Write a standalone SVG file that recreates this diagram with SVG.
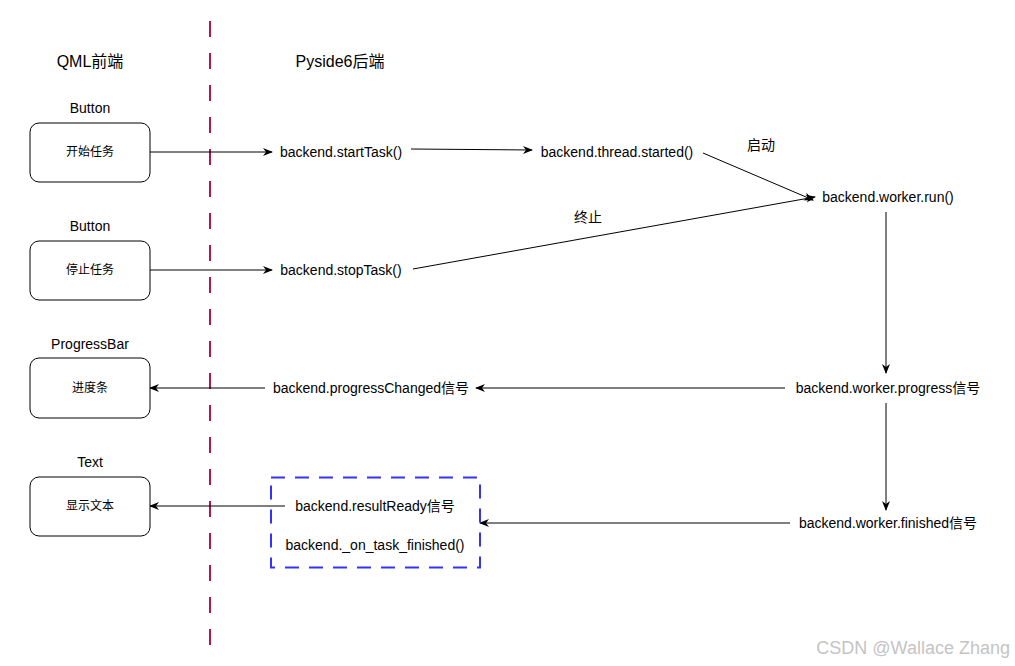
<svg xmlns="http://www.w3.org/2000/svg" width="1015" height="666" viewBox="0 0 1015 666">
<defs>
<marker id="arr" viewBox="0 0 10 10" refX="9" refY="5" markerWidth="10" markerHeight="10" markerUnits="userSpaceOnUse" orient="auto">
<path d="M0,1 L10,5 L0,9 L3,5 z" fill="#000"/>
</marker>
<style>
text{font-family:"Liberation Sans","Noto Sans CJK SC",sans-serif;fill:#000;text-anchor:middle;dominant-baseline:central}
.t{font-size:16px}
.l{font-size:14px}
.s{font-size:12px}
.box{fill:#fff;stroke:#000;stroke-width:1}
.c{stroke:#000;stroke-width:1;fill:none;marker-end:url(#arr)}
</style>
</defs>
<rect width="1015" height="666" fill="#fff"/>
<line x1="210" y1="21" x2="210" y2="648" stroke="#B5164D" stroke-width="2" stroke-dasharray="16 16"/>
<text class="t" x="90" y="61">QML前端</text>
<text class="t" x="340" y="61">Pyside6后端</text>
<g id="connectors">
<line class="c" x1="150" y1="152" x2="272" y2="152"/>
<line class="c" x1="411" y1="149" x2="532" y2="150"/>
<line class="c" x1="703" y1="153" x2="813" y2="200"/>
<line class="c" x1="413" y1="269" x2="815" y2="197"/>
<line class="c" x1="150" y1="270" x2="272" y2="270"/>
<line class="c" x1="886" y1="212" x2="886" y2="373"/>
<line class="c" x1="785" y1="388" x2="476" y2="388"/>
<line class="c" x1="265" y1="388" x2="150" y2="388"/>
<line class="c" x1="886" y1="403" x2="886" y2="510"/>
<line class="c" x1="790" y1="523" x2="480" y2="523"/>
<line class="c" x1="285" y1="506" x2="150" y2="506"/>
</g>
<g id="btn-start">
<text class="l" x="90" y="108">Button</text>
<rect class="box" x="30" y="123" width="120" height="59" rx="9"/>
<text class="s" x="90" y="152">开始任务</text>
</g>
<g id="btn-stop">
<text class="l" x="90" y="226">Button</text>
<rect class="box" x="30" y="241" width="120" height="59" rx="9"/>
<text class="s" x="90" y="270">停止任务</text>
</g>
<g id="progressbar">
<text class="l" x="90" y="344">ProgressBar</text>
<rect class="box" x="30" y="358" width="120" height="60" rx="9"/>
<text class="s" x="90" y="388">进度条</text>
</g>
<g id="textnode">
<text class="l" x="90" y="462">Text</text>
<rect class="box" x="30" y="477" width="120" height="59" rx="9"/>
<text class="s" x="90" y="506">显示文本</text>
</g>
<g id="startTask"><text class="l" x="341" y="152">backend.startTask()</text></g>
<g id="threadStarted"><text class="l" x="617" y="152">backend.thread.started()</text></g>
<g id="lbl-start"><text class="l" x="761" y="145">启动</text></g>
<g id="workerRun"><text class="l" x="888" y="197">backend.worker.run()</text></g>
<g id="lbl-stop"><text class="l" x="588" y="217">终止</text></g>
<g id="stopTask"><text class="l" x="341" y="270">backend.stopTask()</text></g>
<g id="workerProgress"><text class="l" x="888" y="388">backend.worker.progress信号</text></g>
<g id="progressChanged"><text class="l" x="371" y="388">backend.progressChanged信号</text></g>
<g id="workerFinished"><text class="l" x="888" y="523">backend.worker.finished信号</text></g>
<g id="resultGroup">
<rect x="271" y="477.5" width="209" height="90" fill="none" stroke="#3333FF" stroke-width="2" stroke-dasharray="14 10"/>
<text class="l" x="375" y="506">backend.resultReady信号</text>
<text class="l" x="375" y="545">backend._on_task_finished()</text>
</g>
<text x="1010" y="648" style="font-size:18px;fill:#c4c4c4;text-anchor:end">CSDN @Wallace Zhang</text>
</svg>
